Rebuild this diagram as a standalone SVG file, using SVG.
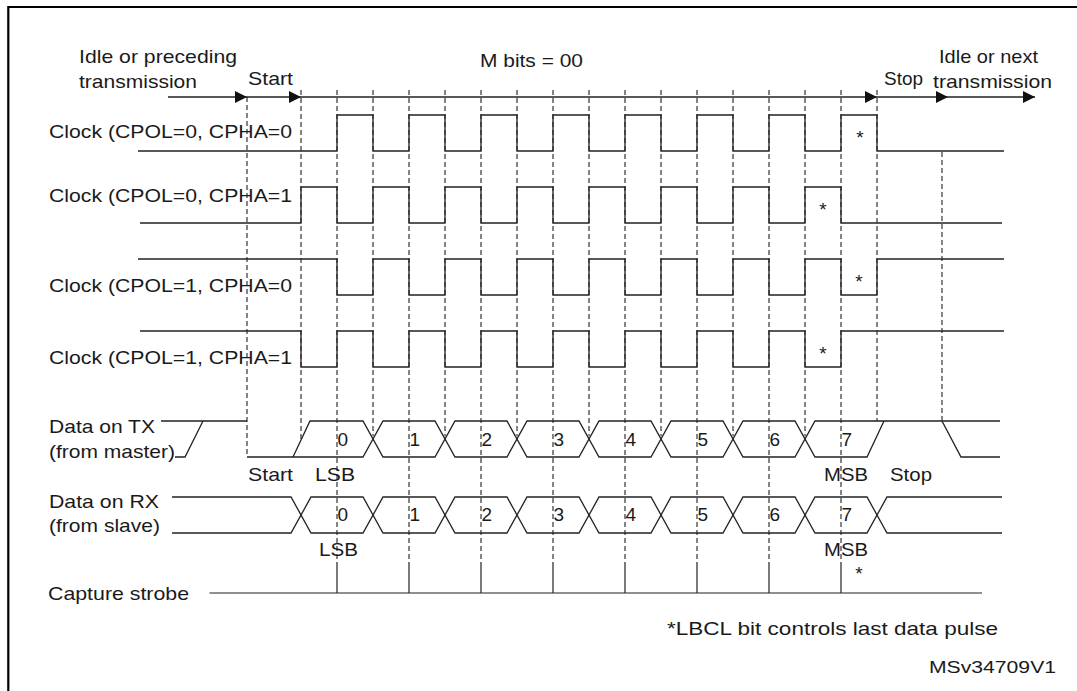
<svg xmlns="http://www.w3.org/2000/svg" width="1077" height="691" viewBox="0 0 1077 691">
<style>
.t{font-family:"Liberation Sans",Arial,sans-serif;font-size:19px;fill:#1a1a1a}
.w{fill:none;stroke:#222;stroke-width:1.3}
.d{fill:none;stroke:#222;stroke-width:1.1;stroke-dasharray:5 3}
.s{fill:none;stroke:#222;stroke-width:1.2}
</style>
<defs>
<marker id="ah" markerWidth="12" markerHeight="12" refX="12" refY="6" orient="auto" markerUnits="userSpaceOnUse">
<path d="M0,0 L12,6 L0,12 Z" fill="#111"/>
</marker>
</defs>
<rect width="1077" height="691" fill="#fff"/>
<path d="M8.3,691 V7 H1077" fill="none" stroke="#000" stroke-width="2.2"/>

<g id="header">
<text class="t" x="79" y="63" textLength="158" lengthAdjust="spacingAndGlyphs">Idle or preceding</text>
<text class="t" x="79" y="88" textLength="118" lengthAdjust="spacingAndGlyphs">transmission</text>
<text class="t" x="248" y="85" textLength="45" lengthAdjust="spacingAndGlyphs">Start</text>
<text class="t" x="480" y="66.5" textLength="103" lengthAdjust="spacingAndGlyphs">M bits = 00</text>
<text class="t" x="884" y="85" textLength="39" lengthAdjust="spacingAndGlyphs">Stop</text>
<text class="t" x="939" y="63" textLength="99" lengthAdjust="spacingAndGlyphs">Idle or next</text>
<text class="t" x="933" y="88" textLength="119" lengthAdjust="spacingAndGlyphs">transmission</text>
</g>

<g id="connectors">
<line class="w" x1="168" y1="97" x2="247" y2="97" marker-end="url(#ah)"/>
<line class="w" x1="247" y1="97" x2="301" y2="97" marker-end="url(#ah)"/>
<line class="w" x1="301" y1="97" x2="877" y2="97" marker-end="url(#ah)"/>
<line class="w" x1="877" y1="97" x2="948" y2="97" marker-end="url(#ah)"/>
<line class="w" x1="948" y1="97" x2="1035" y2="97" marker-end="url(#ah)"/>
</g>

<g id="gridlines">
<path class="d" d="M247,97 V457 M301,90 V440 M942,152 V421 M877,90 V421
M373,90 V436 M445,90 V436 M517,90 V436 M589,90 V436 M661,90 V436 M733,90 V436 M805,90 V436
M337,90 V562 M409,90 V562 M481,90 V562 M553,90 V562 M625,90 V562 M697,90 V562 M769,90 V562 M841,90 V562"/>
</g>

<g id="clk00">
<text class="t" x="49" y="138" textLength="243" lengthAdjust="spacingAndGlyphs">Clock (CPOL=0, CPHA=0</text>
<path class="w" d="M138,151 H337 V115 H373 V151 H409 V115 H445 V151 H481 V115 H517 V151 H553 V115 H589 V151 H625 V115 H661 V151 H697 V115 H733 V151 H769 V115 H805 V151 H841 V115 H877 V151 H1004"/>
<text class="t" x="860" y="144" text-anchor="middle">*</text>
</g>

<g id="clk01">
<text class="t" x="49" y="202" textLength="243" lengthAdjust="spacingAndGlyphs">Clock (CPOL=0, CPHA=1</text>
<path class="w" d="M140,223 H301 V187 H337 V223 H373 V187 H409 V223 H445 V187 H481 V223 H517 V187 H553 V223 H589 V187 H625 V223 H661 V187 H697 V223 H733 V187 H769 V223 H805 V187 H841 V223 H1002"/>
<text class="t" x="823" y="216" text-anchor="middle">*</text>
</g>

<g id="clk10">
<text class="t" x="49" y="292" textLength="243" lengthAdjust="spacingAndGlyphs">Clock (CPOL=1, CPHA=0</text>
<path class="w" d="M138,259 H337 V295 H373 V259 H409 V295 H445 V259 H481 V295 H517 V259 H553 V295 H589 V259 H625 V295 H661 V259 H697 V295 H733 V259 H769 V295 H805 V259 H841 V295 H877 V259 H1004"/>
<text class="t" x="859" y="288" text-anchor="middle">*</text>
</g>

<g id="clk11">
<text class="t" x="49" y="364" textLength="243" lengthAdjust="spacingAndGlyphs">Clock (CPOL=1, CPHA=1</text>
<path class="w" d="M140,331 H301 V367 H337 V331 H373 V367 H409 V331 H445 V367 H481 V331 H517 V367 H553 V331 H589 V367 H625 V331 H661 V367 H697 V331 H733 V367 H769 V331 H805 V367 H841 V331 H1004"/>
<text class="t" x="823" y="360" text-anchor="middle">*</text>
</g>

<g id="tx">
<text class="t" x="49" y="433" textLength="106" lengthAdjust="spacingAndGlyphs">Data on TX</text>
<text class="t" x="49" y="458" textLength="126" lengthAdjust="spacingAndGlyphs">(from master)</text>
<path class="w" d="M161,421 H247 M175,457 H185 L203,421"/>
<polyline class="w" points="247,457 363,457 383,421 435,421 455,457 507,457 527,421 579,421 599,457 651,457 671,421 723,421 743,457 795,457 815,421 1000,421"/>
<polyline class="w" points="293,457 310,421 363,421 383,457 435,457 455,421 507,421 527,457 579,457 599,421 651,421 671,457 723,457 743,421 795,421 815,457 867,457 884,421"/>
<path class="w" d="M942,421 L961,457 H1000"/>
<text class="t" x="337.5" y="445.5">0</text>
<text class="t" x="409.5" y="445.5">1</text>
<text class="t" x="481.5" y="445.5">2</text>
<text class="t" x="553.5" y="445.5">3</text>
<text class="t" x="625.5" y="445.5">4</text>
<text class="t" x="697.5" y="445.5">5</text>
<text class="t" x="769.5" y="445.5">6</text>
<text class="t" x="841.5" y="445.5">7</text>
<text class="t" x="248" y="481" textLength="45" lengthAdjust="spacingAndGlyphs">Start</text>
<text class="t" x="315" y="481" textLength="40" lengthAdjust="spacingAndGlyphs">LSB</text>
<text class="t" x="824" y="481" textLength="44" lengthAdjust="spacingAndGlyphs">MSB</text>
<text class="t" x="890" y="481" textLength="42" lengthAdjust="spacingAndGlyphs">Stop</text>
</g>

<g id="rx">
<text class="t" x="49" y="508" textLength="110" lengthAdjust="spacingAndGlyphs">Data on RX</text>
<text class="t" x="49" y="532" textLength="111" lengthAdjust="spacingAndGlyphs">(from slave)</text>
<polyline class="w" points="172,497 291,497 311,533 363,533 383,497 435,497 455,533 507,533 527,497 579,497 599,533 651,533 671,497 723,497 743,533 795,533 815,497 867,497 887,533 1002,533"/>
<polyline class="w" points="172,533 291,533 311,497 363,497 383,533 435,533 455,497 507,497 527,533 579,533 599,497 651,497 671,533 723,533 743,497 795,497 815,533 867,533 887,497 1002,497"/>
<text class="t" x="337.5" y="520.5">0</text>
<text class="t" x="409.5" y="520.5">1</text>
<text class="t" x="481.5" y="520.5">2</text>
<text class="t" x="553.5" y="520.5">3</text>
<text class="t" x="625.5" y="520.5">4</text>
<text class="t" x="697.5" y="520.5">5</text>
<text class="t" x="769.5" y="520.5">6</text>
<text class="t" x="841.5" y="520.5">7</text>
<text class="t" x="319" y="556" textLength="39" lengthAdjust="spacingAndGlyphs">LSB</text>
<text class="t" x="824" y="556" textLength="44" lengthAdjust="spacingAndGlyphs">MSB</text>
<text class="t" x="859" y="580" text-anchor="middle">*</text>
</g>

<g id="strobe">
<text class="t" x="48" y="600" textLength="141" lengthAdjust="spacingAndGlyphs">Capture strobe</text>
<path class="s" d="M209.5,593 H982 M337,562 V593 M409,562 V593 M481,562 V593 M553,562 V593 M625,562 V593 M697,562 V593 M769,562 V593 M841,562 V593"/>
</g>

<g id="notes">
<text class="t" x="667" y="635" textLength="331" lengthAdjust="spacingAndGlyphs">*LBCL bit controls last data pulse</text>
<text class="t" x="929" y="673" style="font-size:16px" textLength="127" lengthAdjust="spacingAndGlyphs">MSv34709V1</text>
</g>
</svg>
